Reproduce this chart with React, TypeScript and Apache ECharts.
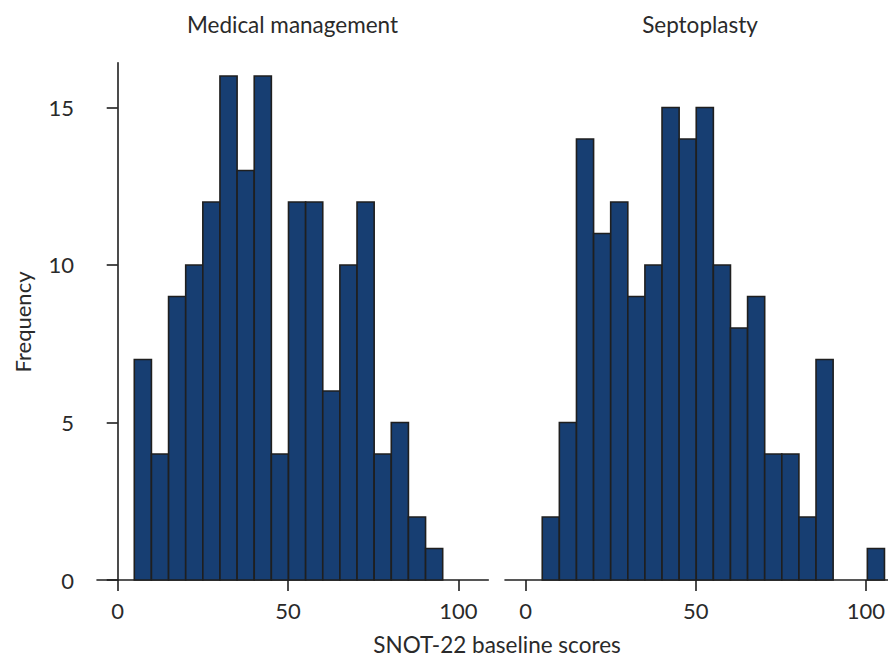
import React, { useEffect, useRef } from "react";
import * as echarts from "echarts";

// Histogram bin layout shared by both panels (SNOT-22 score units)
const BIN_START = 4.87;
const BIN_WIDTH = 5.03;

// Counts per bin, in order from BIN_START
const medicalCounts = [7, 4, 9, 10, 12, 16, 13, 16, 4, 12, 12, 6, 10, 12, 4, 5, 2, 1];
const septoplastyCounts = [2, 5, 14, 11, 12, 9, 10, 15, 14, 15, 10, 8, 9, 4, 4, 2, 7, 0, 0, 1];

const panelTitles = ["Medical management", "Septoplasty"];
const xTicks = [0, 50, 100];
const yTicks = [0, 5, 10, 15];

const FONT = "Lato, 'Noto Sans', sans-serif";
const TEXT = "#2a2a2a";
const BAR = "#173e72";
const EDGE = "#1f1f1f";

const toBins = (counts: number[]) =>
  counts.map((c, i) => [BIN_START + i * BIN_WIDTH, BIN_START + (i + 1) * BIN_WIDTH, c]);

export default function App() {
  const ref = useRef<HTMLDivElement>(null);

  useEffect(() => {
    if (!ref.current) return;
    const chart = echarts.init(ref.current, undefined, { renderer: "svg" });

    const gridTop = 62.7;
    const gridHeight = 517.3;
    // The right panel runs to the edge of the canvas, so its x range is cut shorter.
    const grids = [
      { left: 97, top: gridTop, width: 391.3, height: gridHeight },
      { left: 505, top: gridTop, right: 0, height: gridHeight },
    ];

    const xAxisCommon = {
      type: "value" as const,
      min: -6.08,
      axisLine: { show: true, lineStyle: { color: EDGE, width: 1.6 } },
      axisTick: { show: true, length: 11, customValues: xTicks, lineStyle: { color: EDGE, width: 1.6 } },
      axisLabel: { customValues: xTicks, color: TEXT, fontSize: 22, fontFamily: FONT, margin: 19 },
      splitLine: { show: false },
    };

    const renderBar = (params: any, api: any) => {
      const count = api.value(2);
      if (!count) return null;
      const p0 = api.coord([api.value(0), count]);
      const p1 = api.coord([api.value(1), 0]);
      return {
        type: "rect",
        shape: { x: p0[0], y: p0[1], width: p1[0] - p0[0], height: p1[1] - p0[1] },
        style: { fill: BAR, stroke: EDGE, lineWidth: 1.6 },
      };
    };

    chart.setOption({
      animation: false,
      backgroundColor: "#ffffff",
      grid: grids,
      xAxis: [
        { ...xAxisCommon, gridIndex: 0, max: 108.8 },
        { ...xAxisCommon, gridIndex: 1, max: 106.37 },
      ],
      yAxis: [
        {
          type: "value",
          gridIndex: 0,
          min: 0,
          max: 16.42,
          axisLine: { show: true, lineStyle: { color: EDGE, width: 1.6 } },
          axisTick: { show: true, length: 11, customValues: yTicks, lineStyle: { color: EDGE, width: 1.6 } },
          axisLabel: { customValues: yTicks, color: TEXT, fontSize: 22, fontFamily: FONT, margin: 23 },
          splitLine: { show: false },
        },
        {
          type: "value",
          gridIndex: 1,
          min: 0,
          max: 16.42,
          axisLine: { show: false },
          axisTick: { show: false },
          axisLabel: { show: false },
          splitLine: { show: false },
        },
      ],
      series: [
        {
          type: "custom",
          xAxisIndex: 0,
          yAxisIndex: 0,
          renderItem: renderBar,
          encode: { x: [0, 1], y: 2 },
          data: toBins(medicalCounts),
        },
        {
          type: "custom",
          xAxisIndex: 1,
          yAxisIndex: 1,
          renderItem: renderBar,
          encode: { x: [0, 1], y: 2 },
          data: toBins(septoplastyCounts),
        },
      ],
      graphic: [
        {
          type: "text",
          x: 292.5,
          y: 24,
          style: { text: panelTitles[0], fill: TEXT, font: `22.5px ${FONT}`, align: "center", verticalAlign: "middle" },
        },
        {
          type: "text",
          x: 700,
          y: 24,
          style: { text: panelTitles[1], fill: TEXT, font: `22.5px ${FONT}`, align: "center", verticalAlign: "middle" },
        },
        {
          type: "text",
          x: 22,
          y: 322,
          rotation: Math.PI / 2,
          style: { text: "Frequency", fill: TEXT, font: `22px ${FONT}`, align: "center", verticalAlign: "middle" },
        },
        {
          type: "text",
          x: 497,
          y: 644,
          style: { text: "SNOT-22 baseline scores", fill: TEXT, font: `22.5px ${FONT}`, align: "center", verticalAlign: "middle" },
        },
      ],
    });

    return () => chart.dispose();
  }, []);

  return (
    <div
      ref={ref}
      style={{ position: "fixed", left: 0, top: 0, width: 888, height: 657, background: "#fff" }}
    />
  );
}
